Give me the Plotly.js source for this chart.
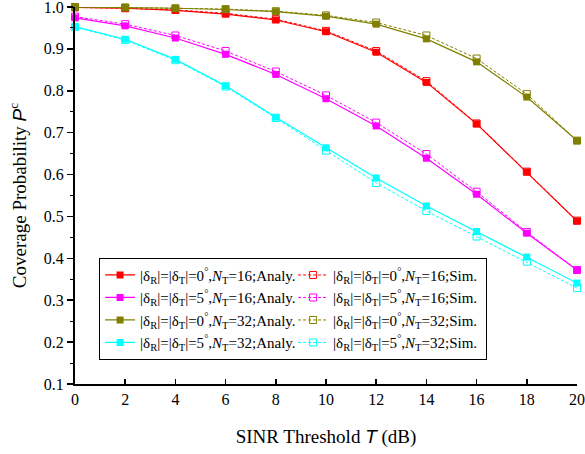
<!DOCTYPE html>
<html>
<head>
<meta charset="utf-8">
<script src="https://cdn.plot.ly/plotly-3.0.1.min.js"></script>
<style>html,body{margin:0;padding:0;background:#fff;}</style>
</head>
<body>
<div id="chart" style="width:585px;height:454px;"></div>
<script>
const sinr = [0, 2, 4, 6, 8, 10, 12, 14, 16, 18, 20];
const yTicks = [0.1, 0.2, 0.3, 0.4, 0.5, 0.6, 0.7, 0.8, 0.9, 1.0];
const yTickText = ['0.1', '0.2', '0.3', '0.4', '0.5', '0.6', '0.7', '0.8', '0.9', '1.0'];

const analy_d0_n16 = [0.999, 0.997, 0.992, 0.983, 0.969, 0.941, 0.892, 0.820, 0.721, 0.606, 0.489];
const sim_d0_n16   = [0.999, 0.997, 0.993, 0.985, 0.971, 0.943, 0.895, 0.823, 0.722, 0.607, 0.490];
const analy_d5_n16 = [0.974, 0.955, 0.926, 0.887, 0.839, 0.781, 0.716, 0.639, 0.553, 0.460, 0.372];
const sim_d5_n16   = [0.977, 0.959, 0.932, 0.895, 0.846, 0.789, 0.724, 0.649, 0.559, 0.463, 0.372];
const analy_d0_n32 = [1.000, 0.999, 0.997, 0.994, 0.989, 0.978, 0.959, 0.924, 0.869, 0.785, 0.681];
const sim_d0_n32   = [1.000, 0.999, 0.997, 0.995, 0.990, 0.980, 0.963, 0.932, 0.877, 0.792, 0.681];
const analy_d5_n32 = [0.953, 0.923, 0.875, 0.812, 0.737, 0.664, 0.592, 0.525, 0.464, 0.403, 0.341];
const sim_d5_n32   = [0.952, 0.921, 0.873, 0.810, 0.735, 0.657, 0.580, 0.513, 0.452, 0.392, 0.329];

const labels = {
  a0_16: "|δ<sub>R</sub>|=|δ<sub>T</sub>|=0<sup>°</sup>,<i>N</i><sub>T</sub>=16;Analy.",
  s0_16: "|δ<sub>R</sub>|=|δ<sub>T</sub>|=0<sup>°</sup>,<i>N</i><sub>T</sub>=16;Sim.",
  a5_16: "|δ<sub>R</sub>|=|δ<sub>T</sub>|=5<sup>°</sup>,<i>N</i><sub>T</sub>=16;Analy.",
  s5_16: "|δ<sub>R</sub>|=|δ<sub>T</sub>|=5<sup>°</sup>,<i>N</i><sub>T</sub>=16;Sim.",
  a0_32: "|δ<sub>R</sub>|=|δ<sub>T</sub>|=0<sup>°</sup>,<i>N</i><sub>T</sub>=32;Analy.",
  s0_32: "|δ<sub>R</sub>|=|δ<sub>T</sub>|=0<sup>°</sup>,<i>N</i><sub>T</sub>=32;Sim.",
  a5_32: "|δ<sub>R</sub>|=|δ<sub>T</sub>|=5<sup>°</sup>,<i>N</i><sub>T</sub>=32;Analy.",
  s5_32: "|δ<sub>R</sub>|=|δ<sub>T</sub>|=5<sup>°</sup>,<i>N</i><sub>T</sub>=32;Sim."
};

function analy(y, color, name) {
  return {x: sinr, y: y, name: name, type: 'scatter', mode: 'lines+markers', cliponaxis: false,
    line: {color: color, width: 1.2},
    marker: {symbol: 'square', size: 7, color: color, line: {width: 0}}};
}
function sim(y, color, name) {
  return {x: sinr, y: y, name: name, type: 'scatter', mode: 'lines+markers', cliponaxis: false,
    line: {color: color, width: 1, dash: '3px,2px'},
    marker: {symbol: 'square-open', size: 7, color: color, line: {width: 1}}};
}

const data = [
  analy(analy_d0_n16, '#ff0000', labels.a0_16),
  sim(sim_d0_n16, '#ff0000', labels.s0_16),
  analy(analy_d5_n16, '#ff00ff', labels.a5_16),
  sim(sim_d5_n16, '#ff00ff', labels.s5_16),
  analy(analy_d0_n32, '#808000', labels.a0_32),
  sim(sim_d0_n32, '#808000', labels.s0_32),
  analy(analy_d5_n32, '#00ffff', labels.a5_32),
  sim(sim_d5_n32, '#00ffff', labels.s5_32)
];

const layout = {
  width: 585, height: 454,
  margin: {l: 75, r: 8, t: 7, b: 70},
  paper_bgcolor: '#fff', plot_bgcolor: '#fff',
  font: {family: 'Liberation Serif, Times New Roman, serif', color: '#000', size: 16},
  showlegend: true,
  legend: {
    orientation: 'h', x: 0.048, y: 0.335, xanchor: 'left', yanchor: 'top',
    bgcolor: '#fff', bordercolor: '#000', borderwidth: 1,
    font: {family: 'Liberation Serif, serif', size: 15, color: '#000'},
    entrywidth: 148, entrywidthmode: 'pixels', traceorder: 'normal'
  },
  xaxis: {
    range: [0, 20], tickvals: sinr, ticktext: sinr.map(String),
    ticks: 'inside', ticklen: 5, tickwidth: 1.5, tickcolor: '#000',
    showline: true, linecolor: '#000', linewidth: 2, mirror: false,
    showgrid: false, zeroline: false, ticklabeloverflow: 'allow',
    tickfont: {size: 16},
    title: {text: 'SINR Threshold <span style="font-family:Liberation Sans"><i>T</i></span> (dB)', font: {size: 19}, standoff: 22}
  },
  yaxis: {
    range: [0.1, 1.0], tickvals: yTicks, ticktext: yTickText,
    ticks: 'outside', ticklen: 6, tickwidth: 1.5, tickcolor: '#000',
    minor: {dtick: 0.05, tick0: 0.05, ticks: 'outside', ticklen: 3, tickwidth: 1, tickcolor: '#000', showgrid: false},
    showline: true, linecolor: '#000', linewidth: 2, mirror: false,
    showgrid: false, zeroline: false, ticklabeloverflow: 'allow',
    tickfont: {size: 16},
    title: {text: 'Coverage Probability <span style="font-family:Liberation Sans"><i>P</i></span><sup>c</sup>', font: {size: 19}, standoff: 12}
  }
};

Plotly.newPlot('chart', data, layout, {staticPlot: true, displayModeBar: false});
</script>
</body>
</html>
